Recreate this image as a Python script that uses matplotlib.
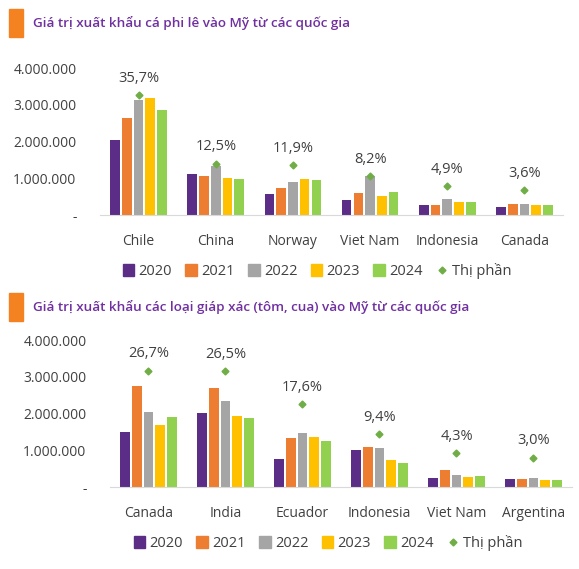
import matplotlib.pyplot as plt
from matplotlib.lines import Line2D
from matplotlib.patches import Patch
import numpy as np

plt.rcParams['font.family'] = ['Open Sans', 'DejaVu Sans']

years = ['2020', '2021', '2022', '2023', '2024']
colors = ['#5B2D86', '#ED7D31', '#A5A5A5', '#FFC000', '#92D050']
text_c = '#404040'

# chart 1: ca phi le
title1 = 'Giá trị xuất khẩu cá phi lê vào Mỹ từ các quốc gia'
countries1 = ['Chile', 'China', 'Norway', 'Viet Nam', 'Indonesia', 'Canada']
values1 = [
    [2050000, 1120000, 560000, 410000, 260000, 220000],   # 2020
    [2640000, 1050000, 740000, 590000, 280000, 290000],   # 2021
    [3140000, 1320000, 900000, 1050000, 430000, 290000],  # 2022
    [3190000, 1000000, 970000, 530000, 350000, 260000],   # 2023
    [2860000, 980000, 940000, 630000, 360000, 260000],    # 2024
]
share1 = [35.7, 12.5, 11.9, 8.2, 4.9, 3.6]

# chart 2: giap xac
title2 = 'Giá trị xuất khẩu các loại giáp xác (tôm, cua) vào Mỹ từ các quốc gia'
countries2 = ['Canada', 'India', 'Ecuador', 'Indonesia', 'Viet Nam', 'Argentina']
values2 = [
    [1500000, 2020000, 750000, 1000000, 245000, 210000],   # 2020
    [2740000, 2690000, 1340000, 1090000, 470000, 210000],  # 2021
    [2050000, 2340000, 1470000, 1070000, 330000, 250000],  # 2022
    [1680000, 1920000, 1360000, 740000, 270000, 200000],   # 2023
    [1900000, 1890000, 1250000, 660000, 290000, 200000],   # 2024
]
share2 = [26.7, 26.5, 17.6, 9.4, 4.3, 3.0]

yticks = [0, 1000000, 2000000, 3000000, 4000000]
ytick_labels = ['-', '1.000.000', '2.000.000', '3.000.000', '4.000.000']

fig = plt.figure(figsize=(5.79, 5.69), dpi=100)


def fmt_pct(v):
    return ('%.1f%%' % v).replace('.', ',')


def draw(rect, title, title_y, countries, values, share, share_lim, legend_x, legend_y):
    ax = fig.add_axes(rect)
    x = np.arange(len(countries))
    w = 0.125
    step = 0.152
    for i, (yr, vals) in enumerate(zip(years, values)):
        ax.bar(x + (i - 2) * step, vals, width=w, color=colors[i], zorder=2)
    ax.set_xlim(-0.5, len(countries) - 0.5)
    ax.set_ylim(0, 4000000)
    ax.set_yticks(yticks)
    ax.set_yticklabels(ytick_labels)
    ax.set_xticks(x)
    ax.set_xticklabels(countries)
    ax.tick_params(axis='both', length=0, labelsize=10, colors=text_c)
    ax.tick_params(axis='y', pad=17)
    ax.tick_params(axis='x', pad=14)
    for s in ['top', 'right', 'left']:
        ax.spines[s].set_visible(False)
    ax.spines['bottom'].set_color('#D9D9D9')

    ax2 = ax.twinx()
    ax2.set_ylim(*share_lim)
    ax2.plot(x, share, linestyle='none', marker='D', markersize=3.5,
             color='#70AD47', zorder=3)
    for xi, s in zip(x, share):
        ax2.annotate(fmt_pct(s), (xi, s), xytext=(0, 12), textcoords='offset points',
                     ha='center', va='center', fontsize=10.5, color=text_c)
    ax2.axis('off')

    handles = [Patch(color=c, label=y) for c, y in zip(colors, years)]
    handles.append(Line2D([], [], linestyle='none', marker='D', markersize=3.5,
                          color='#70AD47', label='Thị phần'))
    fig.legend(handles=handles, loc='center', bbox_to_anchor=(legend_x, legend_y),
               ncol=6, frameon=False, fontsize=10.5, handlelength=0.8, handleheight=0.8,
               handletextpad=0.3, columnspacing=0.9, labelcolor=text_c)

    # title with orange marker block
    fig.patches.append(plt.Rectangle((9 / 579, title_y - 14 / 569), 14 / 579, 28 / 569,
                                     transform=fig.transFigure, color='#F58220'))
    fig.text(33 / 579, title_y, title, ha='left', va='center', fontsize=9.7,
             fontweight='semibold', color='#7030A0')


draw([100 / 579, 1 - 215 / 569, 463 / 579, 147 / 569], title1, 1 - 23 / 569,
     countries1, values1, share1, (-5, 45), 317 / 579, 1 - 271 / 569)
draw([110 / 579, 1 - 487 / 569, 462 / 579, 147 / 569], title2, 1 - 307 / 569,
     countries2, values2, share2, (-5, 35), 328 / 579, 1 - 543 / 569)

fig.savefig('out.png', dpi=100, facecolor='white')
